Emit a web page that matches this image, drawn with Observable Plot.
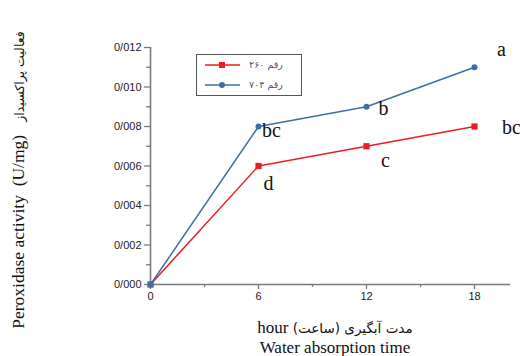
<!DOCTYPE html>
<html>
<head>
<meta charset="utf-8">
<script src="https://cdn.jsdelivr.net/npm/d3@7"></script>
<script src="https://cdn.jsdelivr.net/npm/@observablehq/plot@0.6"></script>
<style>
  html, body { margin: 0; padding: 0; background: #fff; }
  #chart { width: 520px; height: 356px; }
</style>
</head>
<body>
<div id="chart"></div>
<script>
const times = [0, 6, 12, 18];
const values260 = [0, 0.006, 0.007, 0.008];
const values704 = [0, 0.008, 0.009, 0.011];
const seriesNames = ["رقم ۲۶۰", "رقم ۷۰۴"];
const letters260 = ["", "d", "c", "bc"];
const letters704 = ["", "bc", "b", "a"];
const xTicks = [0, 6, 12, 18];
const xMinorTicks = [3, 9, 15];
const yTicks = [0, 0.002, 0.004, 0.006, 0.008, 0.010, 0.012];
const yMinorTicks = [0.001, 0.003, 0.005, 0.007, 0.009, 0.011];
const yTitleEn = "Peroxidase activity  (U/mg)   ";
const yTitleFa = "فعالیت پراکسیداز";
const xTitleFa = "مدت آبگیری (ساعت) ";
const xTitleEn = "hour";
const xTitle2 = "Water absorption time";

const red = "#ec1c24";
const blue = "#3d6fa6";
const axisGray = "#7a7a7a";

const d260 = times.map((t, i) => ({x: t, y: values260[i], label: letters260[i]}));
const d704 = times.map((t, i) => ({x: t, y: values704[i], label: letters704[i]}));

const serif = "'Liberation Serif', 'Times New Roman', serif";
const sans = "'Liberation Sans', Arial, sans-serif";

// letter annotation offsets (px) per point
const off260 = [null, [10, 18], [19, 14], [37, 1]];
const off704 = [null, [13, 4], [17, 2], [27, -18]];

const letterMarks = [];
d260.forEach((d, i) => { if (d.label) letterMarks.push(Plot.text([d], {x: "x", y: "y", text: "label", dx: off260[i][0], dy: off260[i][1], fontSize: 20, fill: "#111", fontFamily: serif})); });
d704.forEach((d, i) => { if (d.label) letterMarks.push(Plot.text([d], {x: "x", y: "y", text: "label", dx: off704[i][0], dy: off704[i][1], fontSize: 20, fill: "#111", fontFamily: serif})); });

const fmt = d => d3.format(".3f")(d).replace(".", "/");

const plot = Plot.plot({
  width: 520,
  height: 356,
  marginLeft: 150,
  marginRight: 10,
  marginTop: 47,
  marginBottom: 72,
  style: {fontFamily: sans, background: "#fff", overflow: "visible"},
  x: {domain: [0, 20]},
  y: {domain: [0, 0.012]},
  marks: [
    Plot.axisX({ticks: xTicks, tickSize: 5, tickPadding: 3, tickFormat: d => String(d), fontSize: 11, stroke: axisGray, strokeWidth: 1.3, fill: "#222", label: null}),
    Plot.axisX({ticks: xMinorTicks, tickSize: 3, tickFormat: () => "", stroke: axisGray, strokeWidth: 1.3, label: null}),
    Plot.axisY({ticks: yTicks, tickSize: 6, tickPadding: 3, tickFormat: fmt, fontSize: 11, stroke: axisGray, strokeWidth: 1.3, fill: "#222", label: null}),
    Plot.axisY({ticks: yMinorTicks, tickSize: 4, tickFormat: () => "", stroke: axisGray, strokeWidth: 1.3, label: null}),
    Plot.ruleY([0], {stroke: axisGray, strokeWidth: 1.6}),
    Plot.ruleX([0], {stroke: axisGray, strokeWidth: 1.6}),
    Plot.line(d260, {x: "x", y: "y", stroke: red, strokeWidth: 1.5}),
    Plot.dot(d260, {x: "x", y: "y", symbol: "square", r: 3.5, fill: red, stroke: "none"}),
    Plot.line(d704, {x: "x", y: "y", stroke: blue, strokeWidth: 1.5}),
    Plot.dot(d704, {x: "x", y: "y", symbol: "circle", r: 3, fill: blue, stroke: "none"}),
    ...letterMarks
  ]
});

document.getElementById("chart").appendChild(plot);

const svg = d3.select(plot);

// Legend
const lg = svg.append("g");
lg.append("rect").attr("x", 196.5).attr("y", 54.5).attr("width", 105).attr("height", 41)
  .attr("fill", "#fff").attr("stroke", "#555").attr("stroke-width", 1);
const legendItems = [
  {name: seriesNames[0], color: red, sym: "square", y: 65},
  {name: seriesNames[1], color: blue, sym: "circle", y: 85}
];
legendItems.forEach(it => {
  lg.append("line").attr("x1", 205).attr("x2", 240).attr("y1", it.y).attr("y2", it.y)
    .attr("stroke", it.color).attr("stroke-width", 1.5);
  if (it.sym === "square") {
    lg.append("rect").attr("x", 219).attr("y", it.y - 3).attr("width", 6).attr("height", 6).attr("fill", it.color);
  } else {
    lg.append("circle").attr("cx", 222).attr("cy", it.y).attr("r", 3).attr("fill", it.color);
  }
  lg.append("text").attr("x", 266).attr("y", it.y).attr("dy", "0.35em")
    .attr("text-anchor", "middle").attr("direction", "rtl")
    .attr("font-family", "'DejaVu Sans', sans-serif").attr("font-size", 9.5).attr("fill", "#555")
    .text(it.name);
});

// Y title
const yt = svg.append("text")
  .attr("transform", "translate(24,180) rotate(-90)")
  .attr("text-anchor", "middle")
  .attr("font-family", serif).attr("font-size", 17.5).attr("fill", "#111")
  .style("white-space", "pre");
yt.append("tspan").text(yTitleEn);
yt.append("tspan").attr("font-size", 12.5).attr("font-family", "'DejaVu Sans', sans-serif").text(yTitleFa);

// X titles
const xt = svg.append("text")
  .attr("x", 335).attr("y", 333)
  .attr("text-anchor", "middle").attr("direction", "rtl")
  .attr("font-family", serif).attr("font-size", 17).attr("fill", "#111")
  .style("white-space", "pre");
xt.append("tspan").attr("font-size", 13.5).attr("font-family", "'DejaVu Sans', sans-serif").text(xTitleFa);
xt.append("tspan").text(xTitleEn);
svg.append("text")
  .attr("x", 335).attr("y", 353)
  .attr("text-anchor", "middle")
  .attr("font-family", serif).attr("font-size", 17).attr("fill", "#111")
  .text(xTitle2);
</script>
</body>
</html>
